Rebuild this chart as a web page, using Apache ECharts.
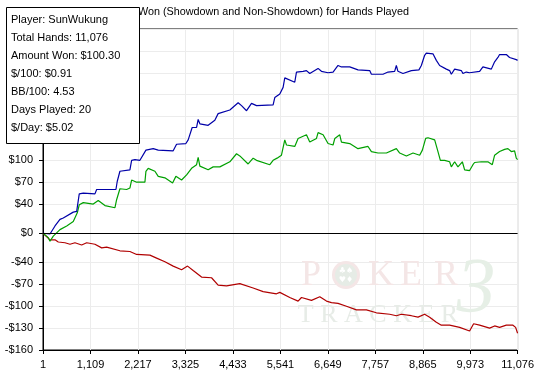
<!DOCTYPE html>
<html><head><meta charset="utf-8">
<script src="https://cdn.jsdelivr.net/npm/echarts@6/dist/echarts.min.js"></script>
<style>html,body{margin:0;padding:0;background:#fff}#c{width:537px;height:381px}</style>
</head><body><div id="c"></div>
<script>
const titleText = 'Amount Won (Showdown and Non-Showdown) for Hands Played';
const infoLines = ['Player: SunWukung','Total Hands: 11,076','Amount Won: $100.30','$/100: $0.91','BB/100: 4.53','Days Played: 20','$/Day: $5.02'];
const xTicks = [1,1109,2217,3325,4433,5541,6649,7757,8865,9973,11076];
const yTicks = [-160,-130,-100,-70,-40,0,40,70,100,130,160,190,220,250,280];

const blueHands = [1,164,281,397,474,707,787,847,941,1213,1253,1703,1733,1796,2029,2069,2146,2263,2403,2573,2690,3039,3118,3335,3389,3482,3585,3622,3662,3855,4011,4088,4361,4555,4634,4751,4867,4984,5371,5410,5527,5604,5643,5683,5876,5916,6070,6149,6226,6420,6499,6653,6770,6886,6966,7003,7159,7352,7625,7665,7935,8052,8207,8247,8284,8401,8597,8774,8830,8907,8946,9101,9141,9180,9257,9413,9490,9530,9607,9763,9800,9879,9956,10190,10267,10463,10540,10617,10656,10813,10889,10929,11045,11076];
const blueWon = [0,-1,10,19,21,29,30,54,55,54,60,60,71,85,87,100,101,100,114,116,114,113,122,123,128,145,145,156,150,148,155,164,169,179,175,168,178,175,176,186,191,200,213,211,207,221,222,223,219,226,222,220,221,230,228,229,228,224,223,218,218,221,222,230,222,219,223,224,230,244,247,246,247,237,230,225,223,218,225,223,219,221,220,222,228,225,235,241,245,245,241,240,238,237];

const greenHands = [1,125,164,241,397,554,707,801,847,941,1174,1290,1447,1680,1719,1796,1953,2029,2069,2186,2379,2403,2456,2613,2690,2846,3025,3102,3235,3352,3468,3585,3622,3662,3855,3972,4128,4361,4517,4594,4788,4905,4984,5294,5371,5464,5566,5643,5683,5876,5954,6149,6226,6383,6420,6537,6653,6770,6811,6926,6966,7159,7352,7586,7665,7819,8015,8247,8325,8481,8636,8791,8854,8931,8985,9141,9218,9274,9374,9490,9530,9607,9684,9787,9840,9956,10034,10073,10229,10267,10383,10486,10540,10656,10773,10850,10929,11006,11045,11076];
const greenWon = [0,-6,-11,-4,5,10,16,28,39,42,40,45,38,35,46,61,60,62,73,70,70,85,89,85,78,76,69,78,73,80,89,94,104,92,87,91,91,98,109,106,95,103,100,94,100,103,107,128,121,119,130,135,125,130,138,135,123,121,130,135,125,123,116,119,112,110,110,116,110,106,110,107,114,130,131,128,112,100,100,98,91,98,91,98,87,86,94,97,98,100,98,94,107,112,115,116,112,113,103,101];

const redHands = [1,164,281,358,514,631,747,903,1020,1213,1370,1486,1796,2029,2186,2496,2652,2846,3039,3235,3375,3505,3701,3934,4088,4284,4594,4905,5138,5450,5527,5760,5954,6033,6266,6460,6616,6733,6886,7082,7315,7548,7781,8092,8247,8364,8597,8753,8907,9024,9180,9297,9490,9724,9956,10050,10190,10423,10540,10656,10813,10968,11030,11076];
const redWon = [0,-9,-9,-12,-13,-15,-13,-16,-13,-15,-20,-19,-24,-25,-29,-30,-34,-39,-45,-50,-45,-51,-60,-61,-71,-72,-69,-75,-80,-83,-81,-88,-93,-88,-92,-87,-93,-95,-96,-100,-105,-105,-109,-111,-113,-111,-113,-115,-111,-115,-122,-126,-126,-129,-134,-124,-126,-130,-127,-129,-126,-126,-129,-137];

const FONT = 'Liberation Sans';
const zip = (a, b) => a.map((v, i) => [v, b[i]]);
const fmtY = v => (v < 0 ? '-$' + (-v) : '$' + v);

const chart = echarts.init(document.getElementById('c'), null, {renderer: 'canvas'});
const lineSeries = (name, color, hands, won, extra) => Object.assign({
  name, type: 'line', data: zip(hands, won), showSymbol: false, symbol: 'none',
  lineStyle: {color, width: 1.2}, itemStyle: {color}, animation: false, z: 3
}, extra || {});

chart.setOption({
  animation: false,
  backgroundColor: '#fff',
  title: {
    text: titleText, right: 128, top: 7, padding: 0,
    textStyle: {fontFamily: FONT, fontSize: 10.8, fontWeight: 'normal', color: '#000'}
  },
  grid: {left: 43, top: 29, right: 19, bottom: 31, show: true, borderColor: '#000', borderWidth: 1, backgroundColor: 'transparent'},
  xAxis: {
    type: 'value', min: 1, max: 11076,
    axisLine: {onZero: false, lineStyle: {color: '#000', width: 1}},
    axisTick: {customValues: xTicks, length: 4, lineStyle: {color: '#000'}},
    axisLabel: {customValues: xTicks, formatter: v => Number(v).toLocaleString('en-US'), fontFamily: FONT, fontSize: 11, color: '#000', margin: 9},
    splitLine: {show: true, lineStyle: {color: '#ececec', width: 1}}
  },
  yAxis: {
    type: 'value', min: -160, max: 280,
    axisLine: {show: true, lineStyle: {color: '#000', width: 1}},
    axisTick: {show: true, customValues: yTicks, length: 4, lineStyle: {color: '#000'}},
    axisLabel: {customValues: yTicks, formatter: fmtY, fontFamily: FONT, fontSize: 11, color: '#000', margin: 10},
    splitLine: {show: true, lineStyle: {color: '#ececec', width: 1}}
  },
  series: [
    lineSeries('Non-Showdown', '#b00000', redHands, redWon, {
      markLine: {silent: true, symbol: 'none', label: {show: false}, animation: false,
        lineStyle: {color: '#000', type: 'solid', width: 1}, data: [{yAxis: 0}]}
    }),
    lineSeries('Showdown', '#00a000', greenHands, greenWon),
    lineSeries('Total', '#0000a8', blueHands, blueWon)
  ],
  graphic: [
    // watermark
    {type: 'text', z: 1, x: 311, y: 276, style: {text: 'P', font: '36px "Liberation Serif"', fill: '#f4e6e6', textAlign: 'center', textVerticalAlign: 'middle'}},
    {type: 'circle', z: 1, shape: {cx: 346, cy: 275, r: 14}, style: {fill: '#f4e6e6'}},
    {type: 'circle', z: 1, shape: {cx: 346, cy: 275, r: 11}, style: {fill: '#e6ece6'}},
    {type: 'text', z: 1, x: 346, y: 275, style: {text: '♣♠\n♥♦', font: '8px "DejaVu Sans"', lineHeight: 9, fill: '#fff', textAlign: 'center', textVerticalAlign: 'middle'}},
    {type: 'text', z: 1, x: 381, y: 276, style: {text: 'K', font: '36px "Liberation Serif"', fill: '#f4e6e6', textAlign: 'center', textVerticalAlign: 'middle'}},
    {type: 'text', z: 1, x: 411, y: 276, style: {text: 'E', font: '36px "Liberation Serif"', fill: '#f4e6e6', textAlign: 'center', textVerticalAlign: 'middle'}},
    {type: 'text', z: 1, x: 446, y: 276, style: {text: 'R', font: '36px "Liberation Serif"', fill: '#f4e6e6', textAlign: 'center', textVerticalAlign: 'middle'}},
    {type: 'text', z: 1, x: 378, y: 315, style: {text: 'T R A C K E R', font: '26px "Liberation Serif"', fill: '#e7ece7', textAlign: 'center', textVerticalAlign: 'middle'}},
    {type: 'text', z: 1, x: 476, y: 290, style: {text: '3', font: 'italic 78px "Liberation Serif"', fill: '#e6efe6', textAlign: 'center', textVerticalAlign: 'middle'}},
    // info box
    {type: 'rect', z: 100, shape: {x: 6.5, y: 7.5, width: 133, height: 136}, style: {fill: '#fff', stroke: '#000', lineWidth: 1}},
    ...infoLines.map((t, i) => ({type: 'text', z: 101, x: 11, y: 20 + 18 * i,
      style: {text: t, font: '11px "' + FONT + '"', fill: '#000', textVerticalAlign: 'middle'}}))
  ]
});
</script></body></html>
